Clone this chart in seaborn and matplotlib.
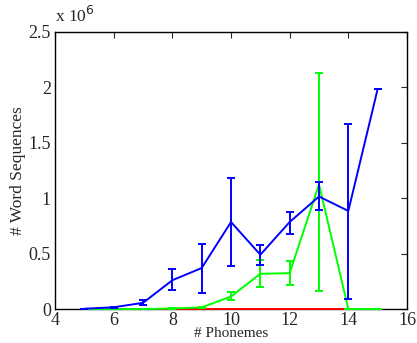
import matplotlib
matplotlib.use("Agg")
import matplotlib.pyplot as plt
import seaborn as sns
import numpy as np
import pandas as pd

# values in units of 10^6 word sequences
phonemes = [5, 6, 7, 8, 9, 10, 11, 12, 13, 14, 15]

blue_mean = [0.003, 0.016, 0.056, 0.26, 0.37, 0.785, 0.49, 0.785, 1.015, 0.885, 1.985]
blue_low = [0.003, 0.012, 0.032, 0.17, 0.146, 0.39, 0.40, 0.68, 0.89, 0.095, 1.985]
blue_high = [0.003, 0.02, 0.08, 0.357, 0.59, 1.18, 0.58, 0.875, 1.15, 1.665, 1.985]

green_mean = [0.0, 0.0, 0.0, 0.005, 0.015, 0.113, 0.318, 0.324, 1.125, 0.0, 0.0]
green_low = [0.0, 0.0, 0.0, 0.003, 0.01, 0.08, 0.2, 0.22, 0.165, 0.0, 0.0]
green_high = [0.0, 0.0, 0.0, 0.007, 0.02, 0.152, 0.44, 0.43, 2.13, 0.0, 0.0]

red_x = [5, 6, 7, 8, 9, 10, 11, 12, 13, 14]
red_mean = [0, 0, 0, 0, 0, 0, 0, 0, 0, 0]

x_ticks = [4, 6, 8, 10, 12, 14, 16]
y_ticks = [0, 0.5, 1, 1.5, 2, 2.5]

sns.set_style("white")
plt.rcParams['font.family'] = ['Liberation Serif', 'DejaVu Serif']

fig = plt.figure(figsize=(4.17, 3.43), dpi=100)
ax = fig.add_axes([0.132, 0.099, 0.844, 0.808])

red_df = pd.DataFrame({'x': red_x, 'y': red_mean})
sns.lineplot(data=red_df, x='x', y='y', color=(1, 0, 0), lw=1.4, ax=ax,
             clip_on=False, zorder=3)

series = [
    (green_mean, green_low, green_high, (0, 1, 0), 4),
    (blue_mean, blue_low, blue_high, (0, 0, 1), 5),
]
for mean, low, high, col, z in series:
    df = pd.DataFrame({'x': phonemes, 'y': mean})
    sns.lineplot(data=df, x='x', y='y', color=col, lw=1.4, ax=ax,
                 clip_on=False, zorder=z)
    m = np.array(mean)
    yerr = [m - np.array(low), np.array(high) - m]
    ax.errorbar(phonemes, mean, yerr=yerr, fmt='none', ecolor=col,
                elinewidth=1.4, capsize=3, capthick=1.4, zorder=z)

ax.set_xlim(4, 16)
ax.set_ylim(0, 2.5)
ax.set_xticks(x_ticks)
ax.set_yticks(y_ticks)
ax.set_yticklabels(['%g' % v for v in y_ticks])
ax.tick_params(direction='in', top=True, right=True, length=4, width=0.8,
               labelsize=13, pad=3)
ax.tick_params(axis='x', pad=2)
for s in ax.spines.values():
    s.set_color('black')
    s.set_linewidth(1.0)

ax.set_xlabel('# Phonemes', fontsize=11, labelpad=-1)
ax.set_ylabel('# Word Sequences', fontsize=12.5, labelpad=2)
ax.text(0.0, 1.02, r'x 10$^6$', transform=ax.transAxes, fontsize=12.5,
        ha='left', va='bottom')

fig.savefig('out.png', dpi=100)
